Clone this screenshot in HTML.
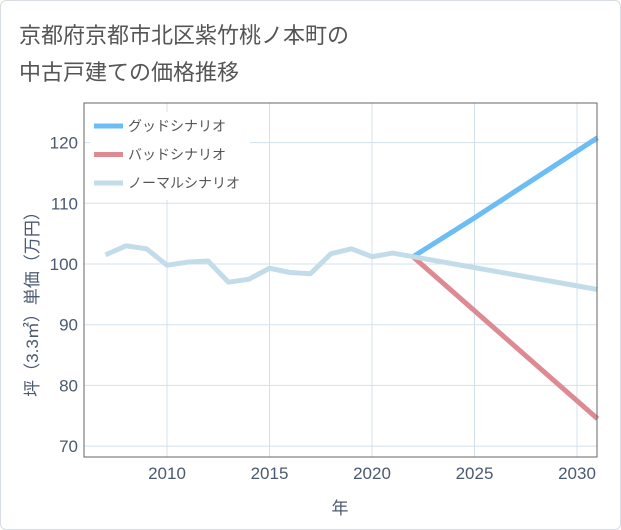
<!DOCTYPE html>
<html><head><meta charset="utf-8"><style>
body{margin:0;background:#fff;font-family:"Liberation Sans","Noto Sans CJK JP",sans-serif;}
#wrap{position:relative;width:619px;height:528px;border:1px solid #d8dde3;border-radius:6px;overflow:hidden;background:#fff}
.t{position:absolute;left:18px;font-size:22px;color:#555;}
</style></head><body>
<div id="wrap">
<div class="t" style="top:17px">京都府京都市北区紫竹桃ノ本町の</div>
<div class="t" style="top:54px">中古戸建ての価格推移</div>
<svg id="c" width="621" height="530" style="position:absolute;left:-1px;top:-1px"></svg>
</div>
<script>
const years=[2007,2008,2009,2010,2011,2012,2013,2014,2015,2016,2017,2018,2019,2020,2021,2022];
const normalHist=[101.5,103,102.5,99.8,100.3,100.5,97,97.5,99.3,98.6,98.4,101.7,102.5,101.2,101.8,101.2];
const futYears=[2022,2025,2031];
const good=[101.2,107.6,120.8];
const bad=[101.2,92.3,74.5];
const normalFut=[101.2,99.4,95.8];
const xTicks=[2010,2015,2020,2025,2030];
const yTicks=[70,80,90,100,110,120];
const svg=document.getElementById('c');const NS='http://www.w3.org/2000/svg';
const L=84,R=597,T=103,B=457;
const x=v=>167+(v-2010)*20.5;
const y=v=>264-(v-100)*6.07;
function el(t,a,p){const e=document.createElementNS(NS,t);for(const k in a)e.setAttribute(k,a[k]);(p||svg).appendChild(e);return e;}
el('rect',{x:L,y:T,width:R-L,height:B-T,fill:'#fff'});
xTicks.forEach(v=>{const g=el('line',{x1:x(v),x2:x(v),y1:T,y2:B,stroke:'#d3e1ec','stroke-width':1});

const t=el('text',{x:x(v),y:479,'text-anchor':'middle','font-size':17,fill:'#4a5a70'});t.textContent=v;
});
yTicks.forEach(v=>{const g=el('line',{x1:L,x2:R,y1:y(v),y2:y(v),stroke:'#d3e1ec','stroke-width':1});

const t=el('text',{x:78,y:y(v)+6,'text-anchor':'end','font-size':17,fill:'#4a5a70'});t.textContent=v;
});
function line(xs,vs,col,name){const p=el('polyline',{points:xs.map((v,i)=>x(v)+','+y(vs[i])).join(' '),fill:'none',stroke:col,'stroke-width':5,'stroke-linejoin':'round'});
}
line(futYears,good,'#6bbdf4','good-scenario-line');
line(futYears,bad,'#de8a92','bad-scenario-line');
line(futYears,normalFut,'#c2dde9','normal-scenario-forecast');
line(years,normalHist,'#c2dde9','normal-scenario-history');
el('rect',{x:L,y:T,width:R-L,height:B-T,fill:'none',stroke:'#666','stroke-width':1});
const lg=[['グッドシナリオ','#6bbdf4'],['バッドシナリオ','#de8a92'],['ノーマルシナリオ','#c2dde9']];
el('rect',{x:90,y:112,width:160,height:88,fill:'#fff'});
lg.forEach((d,i)=>{const yy=126+i*28.5;
const l=el('line',{x1:94,x2:123,y1:yy,y2:yy,stroke:d[1],'stroke-width':5});

const t=el('text',{x:128,y:yy+5,'font-size':14,fill:'#555'});t.textContent=d[0];
});
const xt=el('text',{x:340,y:514,'text-anchor':'middle','font-size':17,fill:'#4a5a70'});xt.textContent='年';

const yt=el('text',{x:0,y:0,'text-anchor':'middle','font-size':17,fill:'#4a5a70',transform:'translate(38,300) rotate(-90)'});yt.textContent='坪（3.3㎡）単価（万円）';

</script>
</body></html>
